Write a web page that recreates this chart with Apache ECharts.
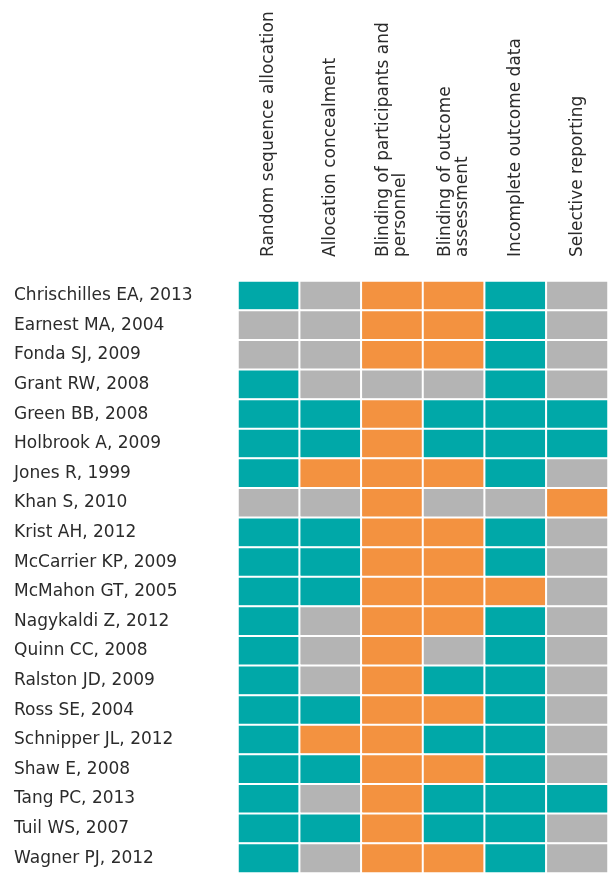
<!DOCTYPE html>
<html>
<head>
<meta charset="utf-8">
<script src="https://cdn.jsdelivr.net/npm/echarts@6/dist/echarts.min.js"></script>
<style>
html,body{margin:0;padding:0;background:#fff;}
#main{width:608px;height:873px;}
</style>
</head>
<body>
<div id="main"></div>
<script>
const domains = [
  'Random sequence allocation',
  'Allocation concealment',
  'Blinding of participants and\npersonnel',
  'Blinding of outcome\nassessment',
  'Incomplete outcome data',
  'Selective reporting'
];
const studies = [
  'Chrischilles EA, 2013','Earnest MA, 2004','Fonda SJ, 2009','Grant RW, 2008',
  'Green BB, 2008','Holbrook A, 2009','Jones R, 1999','Khan S, 2010',
  'Krist AH, 2012','McCarrier KP, 2009','McMahon GT, 2005','Nagykaldi Z, 2012',
  'Quinn CC, 2008','Ralston JD, 2009','Ross SE, 2004','Schnipper JL, 2012',
  'Shaw E, 2008','Tang PC, 2013','Tuil WS, 2007','Wagner PJ, 2012'
];
// 0 = low risk (teal), 1 = unclear (gray), 2 = high risk (orange)
const risk = [
  [0,1,2,2,0,1],
  [1,1,2,2,0,1],
  [1,1,2,2,0,1],
  [0,1,1,1,0,1],
  [0,0,2,0,0,0],
  [0,0,2,0,0,0],
  [0,2,2,2,0,1],
  [1,1,2,1,1,2],
  [0,0,2,2,0,1],
  [0,0,2,2,0,1],
  [0,0,2,2,2,1],
  [0,1,2,2,0,1],
  [0,1,2,1,0,1],
  [0,1,2,0,0,1],
  [0,0,2,2,0,1],
  [0,2,2,0,0,1],
  [0,0,2,2,0,1],
  [0,1,2,0,0,0],
  [0,0,2,0,0,1],
  [0,1,2,2,0,1]
];
const riskColors = ['#00A8A8','#B4B4B4','#F39240'];

const data = [];
risk.forEach((row, r) => row.forEach((v, c) => data.push([c, r, v])));

const chart = echarts.init(document.getElementById('main'));
const font = 'DejaVu Sans';
chart.setOption({
  animation: false,
  grid: {left: 238, top: 281, width: 372, height: 596},
  xAxis: {
    type: 'category', position: 'top', data: domains,
    axisLine: {show: false}, axisTick: {show: false}, splitLine: {show: false},
    axisLabel: {rotate: -90, margin: 24, color: '#2b2b2b', fontFamily: font, fontSize: 17, lineHeight: 17, interval: 0}
  },
  yAxis: {
    type: 'category', inverse: true, data: studies,
    axisLine: {show: false}, axisTick: {show: false}, splitLine: {show: false},
    axisLabel: {align: 'left', margin: 224, color: '#2b2b2b', fontFamily: font, fontSize: 17, interval: 0}
  },
  visualMap: {
    show: false, type: 'piecewise', dimension: 2,
    pieces: [
      {value: 0, color: riskColors[0]},
      {value: 1, color: riskColors[1]},
      {value: 2, color: riskColors[2]}
    ]
  },
  series: [{
    type: 'heatmap', data: data,
    itemStyle: {borderColor: '#fff', borderWidth: 2},
    emphasis: {disabled: true}
  }]
});
</script>
</body>
</html>
